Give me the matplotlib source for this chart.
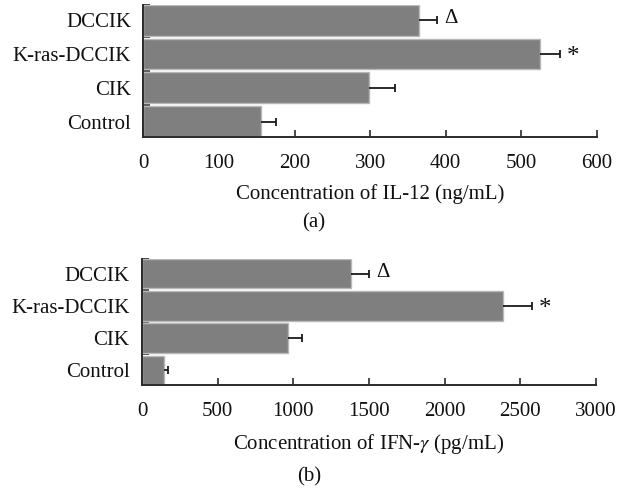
import numpy as np
import matplotlib
matplotlib.use('Agg')
import matplotlib.pyplot as plt
from matplotlib.ticker import FixedLocator, NullFormatter

plt.rcParams['font.family'] = ['Liberation Serif', 'DejaVu Serif']
plt.rcParams['mathtext.fontset'] = 'stix'

groups = ['Control', 'CIK', 'K-ras-DCCIK', 'DCCIK']

il12 = [156, 298, 525, 365]
il12_err = [20, 35, 26, 24]

ifn = [147, 967, 2387, 1380]
ifn_err = [27, 92, 188, 122]

# significance marks: (group index, symbol)
marks = [(2, '*'), (3, '\u0394')]

bar_c = '#7f7f7f'
edge_c = '#b8b8b8'
ax_c = '#2a2a2a'
fs = 15
h = 0.91


def panel(ax, vals, errs, xmax, step, xlabel):
    y = np.arange(len(groups))
    vals = np.array(vals)
    errs = np.array(errs)
    ax.barh(y, vals, height=h, color=bar_c, edgecolor=edge_c, linewidth=1.0,
            zorder=2)
    # one-sided error bars, cap only at the outer end
    ax.hlines(y, vals, vals + errs, color='#1a1a1a', linewidth=1.3, zorder=3)
    ax.plot(vals + errs, y, ls='none', marker='|', ms=5.5, mew=1.3,
            color='#1a1a1a', zorder=3)
    for i, s in marks:
        ax.annotate(s, (vals[i] + errs[i], y[i]), xytext=(5, -2 if s == '*' else 1),
                    textcoords='offset points', ha='left', va='center',
                    fontsize=fs + 3 if s == '*' else fs, color='#111111')
    ax.set_xlim(0, xmax)
    ax.set_ylim(-h / 2, len(groups) - 1 + h / 2)
    ax.set_xticks(np.arange(0, xmax + 1, step))
    ax.set_yticks(y)
    ax.set_yticklabels(groups)
    ax.yaxis.set_minor_locator(FixedLocator([0.5, 1.5, 2.5, len(groups) - 1 + h / 2]))
    ax.yaxis.set_minor_formatter(NullFormatter())
    ax.tick_params(axis='y', which='major', length=0, pad=9, labelsize=fs,
                   colors='#111111')
    ax.tick_params(axis='y', which='minor', direction='in', length=5,
                   width=1.2, color=ax_c)
    ax.tick_params(axis='x', direction='in', length=5, width=1.2, color=ax_c,
                   pad=12, labelsize=fs, labelcolor='#111111')
    for side in ['top', 'right']:
        ax.spines[side].set_visible(False)
    for side in ['left', 'bottom']:
        ax.spines[side].set_color(ax_c)
        ax.spines[side].set_linewidth(1.4)
    ax.set_xlabel(xlabel, fontsize=fs, labelpad=8, color='#111111')


fig = plt.figure(figsize=(6.22, 4.88), dpi=100)
ax1 = fig.add_axes([0.2307, 0.7193, 0.7286, 0.2705])
ax2 = fig.add_axes([0.2283, 0.2111, 0.7299, 0.2582])

panel(ax1, il12, il12_err, 600, 100, 'Concentration of IL-12 (ng/mL)')
panel(ax2, ifn, ifn_err, 3000, 500, 'Concentration of IFN-$\\gamma$ (pg/mL)')

fig.text(0.505, 1 - 223 / 488, '(a)', ha='center', va='center', fontsize=fs,
         color='#111111')
fig.text(0.497, 1 - 477 / 488, '(b)', ha='center', va='center', fontsize=fs,
         color='#111111')

fig.savefig('out.png', dpi=100)
print('done')
